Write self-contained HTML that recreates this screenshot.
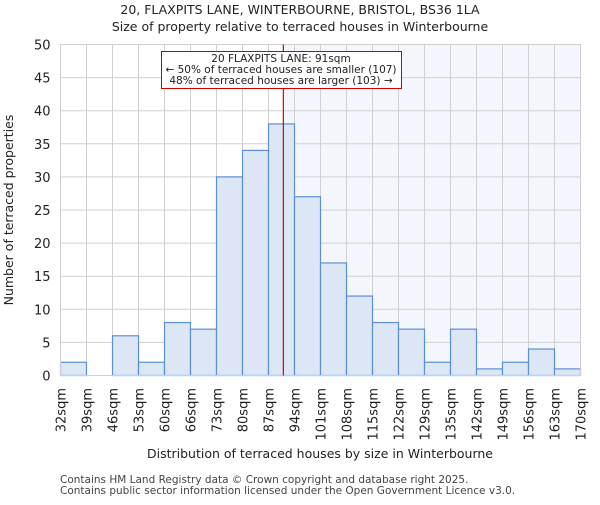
<!DOCTYPE html>
<html><head><meta charset="utf-8"><style>
body{margin:0;background:#fff;}
svg text{font-family:"DejaVu Sans","Liberation Sans",sans-serif;fill:#222;}
</style></head><body>
<svg id="chart" width="600" height="500" xmlns="http://www.w3.org/2000/svg">
<text x="300" y="14" text-anchor="middle" font-size="12.5">20, FLAXPITS LANE, WINTERBOURNE, BRISTOL, BS36 1LA</text>
<text x="300" y="31" text-anchor="middle" font-size="12.5">Size of property relative to terraced houses in Winterbourne</text>
<g id="plot"></g>
<text x="320" y="458" text-anchor="middle" font-size="12.5">Distribution of terraced houses by size in Winterbourne</text>
<text transform="translate(13,210) rotate(-90)" text-anchor="middle" font-size="12.5">Number of terraced properties</text>
<text x="60" y="483" font-size="10.5" style="fill:#444">Contains HM Land Registry data © Crown copyright and database right 2025.</text>
<text x="60" y="494" font-size="10.5" style="fill:#444">Contains public sector information licensed under the Open Government Licence v3.0.</text>
</svg>
<script>
const binLabels=["32sqm","39sqm","46sqm","53sqm","60sqm","66sqm","73sqm","80sqm","87sqm","94sqm","101sqm","108sqm","115sqm","122sqm","129sqm","135sqm","142sqm","149sqm","156sqm","163sqm","170sqm"];
const counts=[2,0,6,2,8,7,30,34,38,27,17,12,8,7,2,7,1,2,4,1];
const yTicks=[0,5,10,15,20,25,30,35,40,45,50];
const markerIndex=8+4/7; // 91sqm between 87 and 94
const annotLines=["20 FLAXPITS LANE: 91sqm","← 50% of terraced houses are smaller (107)","48% of terraced houses are larger (103) →"];

const NS="http://www.w3.org/2000/svg";
const g=document.getElementById('plot');
const L=60.5,R=580.5,T=44.5,B=375.5,yMax=50;
const nb=counts.length,bw=(R-L)/nb;
const xs=i=>L+i*bw;
const ys=v=>B-(B-T)*v/yMax;
function mk(tag,attrs){const e=document.createElementNS(NS,tag);for(const k in attrs)e.setAttribute(k,attrs[k]);g.appendChild(e);return e;}
let e=mk('rect',{x:xs(markerIndex),y:T,width:R-xs(markerIndex),height:B-T,fill:'#f3f6fd'});


yTicks.forEach(t=>{let l=mk('line',{x1:L,x2:R,y1:ys(t),y2:ys(t),stroke:'#d0d0d0','stroke-width':1});


let tx=mk('text',{x:L-10,y:ys(t)+5,'text-anchor':'end','font-size':13});tx.textContent=t;

});
binLabels.forEach((lab,i)=>{let l=mk('line',{x1:xs(i),x2:xs(i),y1:T,y2:B,stroke:'#d0d0d0','stroke-width':1});


let tx=mk('text',{transform:`translate(${xs(i)+5},388) rotate(-90)`,'text-anchor':'end','font-size':13});tx.textContent=lab;

});
counts.forEach((c,i)=>{if(c<=0)return;let r=mk('rect',{x:xs(i),y:ys(c),width:bw,height:B-ys(c),fill:'#dce6f5',stroke:'#5a8fd6','stroke-width':1.2});

});
e=mk('rect',{x:L,y:T,width:R-L,height:B-T,fill:'none',stroke:'#d0d0d0'});


e=mk('line',{x1:xs(markerIndex),x2:xs(markerIndex),y1:T,y2:B,stroke:'#dd0000','stroke-width':1.2});


e=mk('rect',{x:161.5,y:51.5,width:240,height:37,fill:'#fff',stroke:'#cc0000','stroke-width':1});


annotLines.forEach((s,k)=>{let t=mk('text',{x:281,y:62+k*11,'text-anchor':'middle','font-size':10.5});t.textContent=s;

});
</script>
</body></html>
